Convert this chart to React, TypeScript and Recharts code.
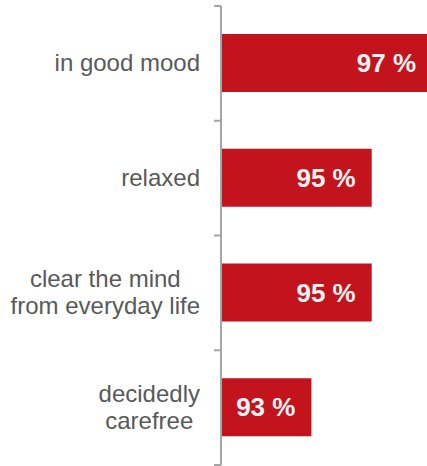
import { BarChart, Bar, XAxis, YAxis, LabelList } from 'recharts'

const categories = ['in good mood', 'relaxed', 'clear the mind\nfrom everyday life', 'decidedly\ncarefree']
const shares = [97, 95, 95, 93]

const BAR_RED = '#c3141e'
const AXIS_GREY = '#a6a6a6'
const LABEL_GREY = '#595959'
const FONT = '"Liberation Sans", Arial, sans-serif'

const chartData = categories.map((name, i) => ({ name, share: shares[i] }))

let measureCtx: CanvasRenderingContext2D | null = null
function textWidth(s: string, font: string) {
  if (!measureCtx) measureCtx = document.createElement('canvas').getContext('2d')
  if (!measureCtx) return s.length * 10
  measureCtx.font = font
  return measureCtx.measureText(s).width
}

function CategoryTick(props: any) {
  const { x, y, payload, index, visibleTicksCount } = props
  const lines: string[] = String(payload.value).split('\n')
  const half = payload.offset ?? 57
  const axisX = x + 21
  const lineH = 27
  const font = `24px ${FONT}`
  const blockW = Math.max(...lines.map((l) => textWidth(l, font)))
  const multi = lines.length > 1
  const firstDy = -((lines.length - 1) * lineH) / 2 + 8
  return (
    <g>
      <line x1={axisX - 7} x2={axisX} y1={y - half} y2={y - half} stroke={AXIS_GREY} strokeWidth={2} />
      {index === visibleTicksCount - 1 && (
        <line x1={axisX - 7} x2={axisX} y1={y + half} y2={y + half} stroke={AXIS_GREY} strokeWidth={2} />
      )}
      <text
        x={multi ? x - blockW / 2 : x}
        y={y}
        textAnchor={multi ? 'middle' : 'end'}
        fill={LABEL_GREY}
        style={{ fontFamily: FONT, fontSize: 24 }}
      >
        {lines.map((l, i) => (
          <tspan key={i} x={multi ? x - blockW / 2 : x} dy={i === 0 ? firstDy : lineH}>
            {l}
          </tspan>
        ))}
      </text>
    </g>
  )
}

export default function App() {
  return (
    <div
      style={{
        position: 'absolute',
        left: 0,
        top: 0,
        width: 427,
        height: 466,
        overflow: 'hidden',
        background: '#fff',
      }}
    >
      <BarChart
        width={432}
        height={466}
        data={chartData}
        layout="vertical"
        margin={{ top: 6, right: 0, bottom: 1, left: 0 }}
        barSize={58}
      >
        <XAxis type="number" domain={[90, 97]} hide allowDataOverflow />
        <YAxis
          type="category"
          dataKey="name"
          width={221}
          axisLine={{ stroke: AXIS_GREY, strokeWidth: 2 }}
          tickLine={false}
          tickSize={7}
          tickMargin={14}
          interval={0}
          tick={<CategoryTick />}
        />
        <Bar dataKey="share" fill={BAR_RED} isAnimationActive={false}>
          <LabelList
            dataKey="share"
            position="insideRight"
            offset={16}
            formatter={(v: any) => `${v} %`}
            fill="#f2f2f2"
            style={{ fontFamily: FONT, fontSize: 26, fontWeight: 'bold' }}
          />
        </Bar>
      </BarChart>
    </div>
  )
}
